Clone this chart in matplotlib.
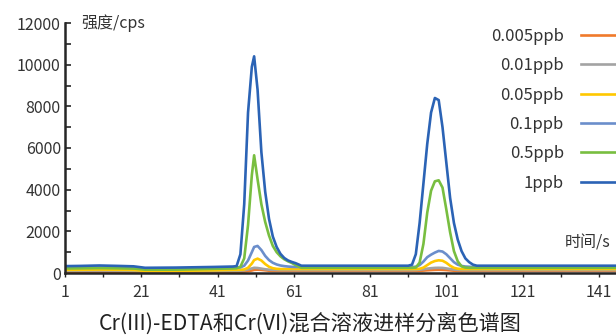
import numpy as np
import matplotlib
matplotlib.use('Agg')
import matplotlib.pyplot as plt
from matplotlib.ticker import MultipleLocator, FixedLocator

plt.rcParams['font.family'] = ['Noto Sans CJK SC', 'DejaVu Sans']

# retention time (s)
t = [1, 5, 10, 15, 19, 22, 30, 40, 45, 46, 47, 48, 49, 50, 50.6, 51.5, 52.5, 53.5, 54.5,
     55.5, 56.5, 57.5, 58.5, 59.5, 60.5, 61.5, 63, 70, 80, 90, 91, 92, 93, 94, 95, 96, 97,
     98, 99, 100, 101, 102, 103, 104, 105, 106, 107, 108, 109, 110, 120, 130,
     140, 146]

# intensity (cps) for every concentration
c_0005 = [60, 60, 65, 60, 55, 30, 30, 40, 55, 60, 60, 70, 90, 120, 150, 160, 150, 130, 110,
          100, 100, 100, 100, 100, 100, 100, 100, 100, 100, 100, 100, 100, 100, 105, 115, 130, 140,
          150, 155, 150, 140, 125, 110, 105, 100, 100, 100, 100, 100, 100, 100, 100,
          100, 100]
c_001 = [110, 115, 120, 115, 105, 80, 80, 95, 110, 110, 115, 130, 170, 220, 250, 240, 210, 180, 160,
         150, 145, 140, 140, 140, 140, 140, 140, 140, 140, 140, 140, 140, 145, 160, 180, 210, 230,
         245, 250, 245, 220, 190, 165, 150, 145, 140, 140, 140, 140, 140, 140, 140,
         140, 140]
c_005 = [150, 155, 165, 155, 145, 100, 100, 130, 150, 150, 155, 170, 250, 450, 620, 690, 600, 430, 300,
         230, 200, 190, 190, 190, 190, 190, 190, 190, 190, 190, 190, 190, 190, 200, 260, 380, 500,
         575, 610, 590, 490, 350, 250, 205, 190, 190, 190, 190, 190, 190, 190, 190,
         190, 190]
c_01 = [250, 255, 265, 255, 245, 200, 200, 230, 250, 250, 270, 350, 600, 1000, 1250, 1300, 1100, 820, 620,
        490, 410, 360, 330, 310, 295, 290, 290, 290, 290, 290, 290, 290, 300, 380, 550, 760, 880,
        980, 1060, 1030, 900, 710, 520, 400, 340, 310, 300, 290, 290, 290, 290, 290,
        290, 290]
c_05 = [220, 225, 235, 225, 215, 160, 160, 200, 220, 230, 300, 700, 2300, 4700, 5650, 4500, 3300, 2450, 1800,
        1300, 1000, 800, 660, 560, 480, 380, 250, 250, 250, 250, 250, 250, 260, 500, 1400, 2900, 3950,
        4400, 4450, 4100, 3050, 1950, 1050, 560, 320, 260, 250, 250, 250, 250, 250, 250,
        250, 250]
c_1 = [330, 340, 360, 340, 320, 250, 260, 290, 310, 330, 900, 3300, 7700, 9900, 10400, 8800, 5800, 3900, 2600,
       1750, 1250, 920, 720, 600, 530, 470, 350, 350, 350, 350, 350, 400, 900, 2400, 4300, 6200, 7700,
       8400, 8300, 7000, 5300, 3600, 2400, 1600, 1050, 700, 520, 400, 350, 350, 350, 350,
       350, 350]

labels = ['0.005ppb', '0.01ppb', '0.05ppb', '0.1ppb', '0.5ppb', '1ppb']
series = [c_0005, c_001, c_005, c_01, c_05, c_1]
colors = ['#F07A2B', '#A3A3A3', '#FFC800', '#6B8ECB', '#78BE40', '#2B63B5']

fig = plt.figure(figsize=(6.16, 3.35), dpi=100)
ax = fig.add_axes([65 / 616, 62 / 335, 1 - 65 / 616, 250 / 335])

for y, c, lab in zip(series, colors, labels):
    ax.plot(t, y, color=c, lw=1.9, label=lab, solid_joinstyle='round')

ax.set_xlim(1, 145.5)
ax.set_ylim(0, 12000)

ax.xaxis.set_major_locator(FixedLocator(np.arange(1, 142, 20)))
ax.xaxis.set_minor_locator(FixedLocator(np.arange(11, 146, 20)))
ax.yaxis.set_major_locator(MultipleLocator(2000))
ax.yaxis.set_minor_locator(MultipleLocator(1000))

for side in ['top', 'right']:
    ax.spines[side].set_visible(False)
for side in ['left', 'bottom']:
    ax.spines[side].set_linewidth(1.8)
    ax.spines[side].set_color('#262626')

ax.tick_params(axis='y', which='both', direction='in', length=4.5, width=1.2,
               color='#262626', labelsize=11.5, labelcolor='#333333', pad=3)
ax.tick_params(axis='x', which='both', direction='out', length=3, width=1.0,
               color='#262626', labelsize=11.5, labelcolor='#333333', pad=5)

ax.text(5.2, 12000, '强度/cps', fontsize=11.5, color='#333333', va='center', ha='left')
ax.text(132.0, 1450, '时间/s', fontsize=11.5, color='#333333', va='center', ha='left')

fig.text(0.503, 0.035, 'Cr(III)-EDTA和Cr(VI)混合溶液进样分离色谱图',
         fontsize=15.2, color='#222222', ha='center', va='center')

ax.legend(loc='upper right', bbox_to_anchor=(623 / 616, 1 - 28 / 335),
          bbox_transform=fig.transFigure, frameon=False, markerfirst=False,
          fontsize=12, handlelength=2.5, handletextpad=1.05, labelspacing=0.74,
          borderpad=0, borderaxespad=0, labelcolor='#333333')

fig.savefig('out.png', dpi=100)
